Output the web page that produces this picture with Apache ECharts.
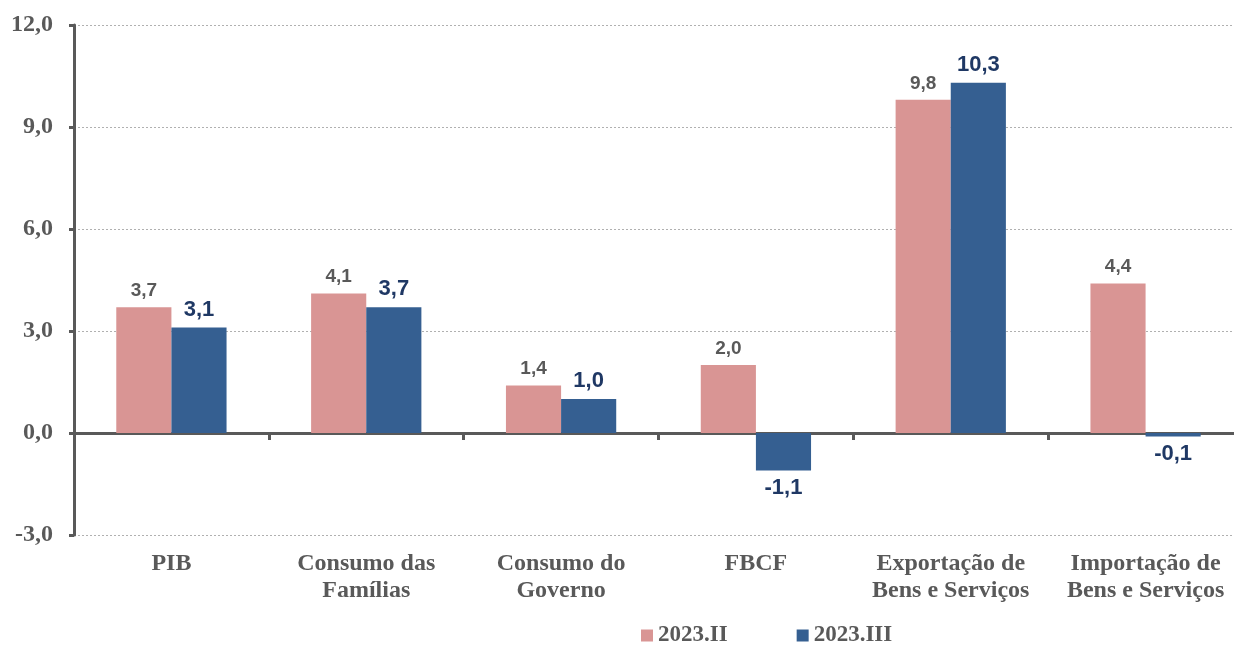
<!DOCTYPE html>
<html>
<head>
<meta charset="utf-8">
<script src="https://cdn.jsdelivr.net/npm/echarts@6/dist/echarts.min.js"></script>
<style>
  html, body { margin: 0; padding: 0; background: #fff; }
  #chart { width: 1234px; height: 646px; }
</style>
</head>
<body>
<div id="chart"></div>
<script>
const categories = ['PIB', 'Consumo das\nFamílias', 'Consumo do\nGoverno', 'FBCF', 'Exportação de\nBens e Serviços', 'Importação de\nBens e Serviços']
const q2Values = [3.7, 4.1, 1.4, 2.0, 9.8, 4.4]
const q3Values = [3.1, 3.7, 1.0, -1.1, 10.3, -0.1]
const seriesNames = ['2023.II', '2023.III']

const fmt = (v) => v.toFixed(1).replace('.', ',')

const chart = echarts.init(document.getElementById('chart'))

// negative bars get their label underneath
const toData = (values) => values.map((v) => ({
  value: v,
  label: { position: v < 0 ? 'bottom' : 'top' },
}))

const option = {
  animation: false,
  legend: {
    data: seriesNames,
    left: 636,
    top: 619,
    itemWidth: 12,
    itemHeight: 12,
    itemGap: 69,
    icon: 'rect',
    textStyle: {
      fontFamily: 'Liberation Serif',
      fontWeight: 'bold',
      fontSize: 23,
      color: '#595959',
    },
  },
  grid: {
    left: 74,
    width: 1169,
    top: 25,
    bottom: 111,
    outerBoundsMode: 'none',
  },
  xAxis: [
    {
      type: 'category',
      data: categories,
      position: 'bottom',
      axisLine: { show: false, onZero: false },
      axisTick: { show: false },
      axisLabel: {
        interval: 0,
        margin: 15,
        fontFamily: 'Liberation Serif',
        fontWeight: 'bold',
        fontSize: 24,
        lineHeight: 27,
        color: '#595959',
      },
    },
    {
      type: 'category',
      data: categories,
      position: 'bottom',
      axisLine: { show: true, onZero: true, lineStyle: { color: '#595959', width: 3 } },
      axisTick: { show: true, interval: 0, length: 7, lineStyle: { color: '#595959', width: 3 } },
      axisLabel: { show: false },
    },
  ],
  yAxis: {
    type: 'value',
    min: -3,
    max: 12,
    interval: 3,
    axisLine: { show: true, lineStyle: { color: '#595959', width: 3 } },
    axisTick: { show: true, length: 5, lineStyle: { color: '#595959', width: 3 } },
    axisLabel: {
      formatter: fmt,
      margin: 21,
      fontFamily: 'Liberation Serif',
      fontWeight: 'bold',
      fontSize: 24,
      color: '#595959',
    },
    splitLine: { lineStyle: { color: '#b0b0b0', type: [2, 2], width: 1 } },
  },
  series: [
    {
      name: seriesNames[0],
      type: 'bar',
      data: toData(q2Values),
      barWidth: '28.3%',
      barGap: '0%',
      itemStyle: { color: '#d99594' },
      label: {
        show: true,
        distance: 7,
        formatter: (p) => fmt(p.value),
        fontFamily: 'Liberation Sans',
        fontWeight: 'bold',
        fontSize: 19,
        color: '#595959',
      },
    },
    {
      name: seriesNames[1],
      type: 'bar',
      data: toData(q3Values),
      barWidth: '28.3%',
      barGap: '0%',
      itemStyle: { color: '#355f91' },
      label: {
        show: true,
        distance: 7,
        formatter: (p) => fmt(p.value),
        fontFamily: 'Liberation Sans',
        fontWeight: 'bold',
        fontSize: 22,
        color: '#1f3864',
      },
    },
  ],
}

chart.setOption(option)
</script>
</body>
</html>
